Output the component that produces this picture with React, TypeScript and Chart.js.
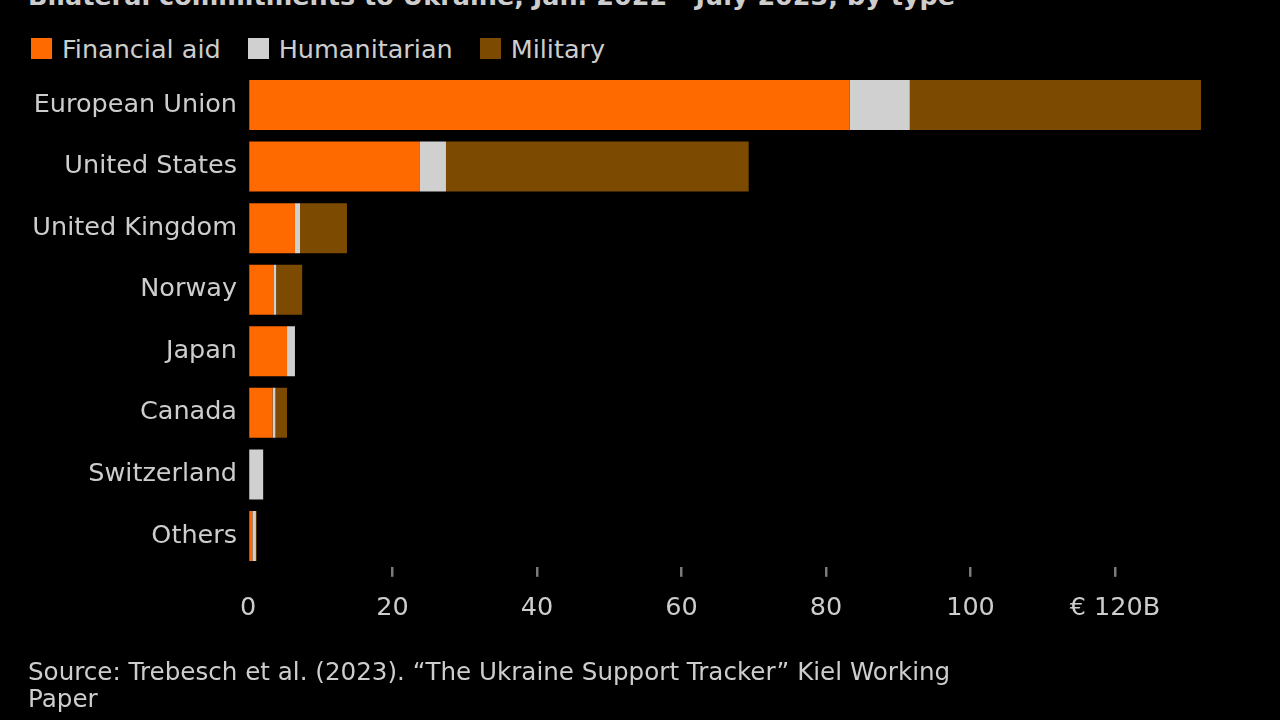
import React, { useEffect, useRef } from "react";
import { Chart, registerables } from "chart.js";

Chart.register(...registerables);

const CATEGORIES = [
  "European Union",
  "United States",
  "United Kingdom",
  "Norway",
  "Japan",
  "Canada",
  "Switzerland",
  "Others",
];
const FINANCIAL = [83.3, 23.8, 6.5, 3.6, 5.4, 3.4, 0, 0.6];
const HUMANITARIAN = [8.3, 3.6, 0.7, 0.3, 1.1, 0.4, 2.1, 0.5];
const MILITARY = [40.3, 41.9, 6.5, 3.6, 0, 1.6, 0, 0.1];
const X_TICKS = [0, 20, 40, 60, 80, 100, 120];

const TITLE = "Bilateral commitments to Ukraine, Jan. 2022 - July 2023, by type";
const SOURCE_1 = "Source: Trebesch et al. (2023). \u201cThe Ukraine Support Tracker\u201d Kiel Working";
const SOURCE_2 = "Paper";

const COLORS = {
  financial: "#ff6a00",
  humanitarian: "#d0d0d0",
  military: "#7c4a00",
  text: "#cdcdcd",
  tick: "#7a7a7a",
};

const FONT = "'DejaVu Sans', sans-serif";

export default function App() {
  const canvasRef = useRef<HTMLCanvasElement | null>(null);

  useEffect(() => {
    const canvas = canvasRef.current;
    if (!canvas) return;
    const xMax = 135;
    const left = 248;
    const pxPerUnit = 7.225;
    const right = left + xMax * pxPerUnit;
    const chart = new Chart(canvas, {
      type: "bar",
      data: {
        labels: CATEGORIES,
        datasets: [
          { label: "Financial aid", data: FINANCIAL, backgroundColor: COLORS.financial },
          { label: "Humanitarian", data: HUMANITARIAN, backgroundColor: COLORS.humanitarian },
          { label: "Military", data: MILITARY, backgroundColor: COLORS.military },
        ].map((d) => ({
          ...d,
          borderWidth: 0,
          barPercentage: 0.812,
          categoryPercentage: 1,
        })),
      },
      options: {
        indexAxis: "y",
        responsive: false,
        maintainAspectRatio: false,
        animation: false,
        layout: {
          padding: { top: 74.2, left: 0, right: 1280 - right, bottom: 93.2 },
        },
        plugins: {
          legend: { display: false },
          tooltip: { enabled: false },
          title: { display: false },
        },
        scales: {
          x: {
            stacked: true,
            min: 0,
            max: xMax,
            afterBuildTicks: (scale: any) => {
              scale.ticks = X_TICKS.map((v) => ({ value: v }));
            },
            afterFit: (scale: any) => {
              scale.height = 60;
            },
            border: { display: false },
            grid: {
              display: true,
              drawOnChartArea: false,
              drawTicks: true,
              tickLength: 10,
              lineWidth: 2.5,
              color: (ctx: any) =>
                ctx.tick && ctx.tick.value === 0 ? "rgba(0,0,0,0)" : COLORS.tick,
            },
            ticks: {
              color: COLORS.text,
              font: { family: FONT, size: 25.5 },
              padding: 16,
              maxRotation: 0,
              autoSkip: false,
              callback: (v: any) => (Number(v) === 120 ? "\u20ac 120B" : String(v)),
            },
          },
          y: {
            stacked: true,
            afterFit: (scale: any) => {
              scale.width = left;
            },
            border: { display: false },
            grid: { display: false, drawTicks: false },
            ticks: {
              color: COLORS.text,
              font: { family: FONT, size: 25.5 },
              padding: 11,
              autoSkip: false,
            },
          },
        },
      },
    } as any);
    return () => chart.destroy();
  }, []);

  const legendItems = [
    { label: "Financial aid", color: COLORS.financial },
    { label: "Humanitarian", color: COLORS.humanitarian },
    { label: "Military", color: COLORS.military },
  ];

  return (
    <div
      style={{
        position: "fixed",
        left: 0,
        top: 0,
        width: 1280,
        height: 720,
        background: "#000",
        overflow: "hidden",
        fontFamily: FONT,
        color: COLORS.text,
      }}
    >
      <div
        style={{
          position: "absolute",
          left: 28,
          top: -19,
          fontSize: 25.5,
          lineHeight: "30px",
          fontWeight: "bold",
          whiteSpace: "nowrap",
        }}
      >
        {TITLE}
      </div>
      <div
        style={{
          position: "absolute",
          left: 31,
          top: 33.6,
          display: "flex",
          alignItems: "center",
          fontSize: 25.5,
          lineHeight: "30px",
          whiteSpace: "nowrap",
        }}
      >
        {legendItems.map((it) => (
          <div key={it.label} style={{ display: "flex", alignItems: "center", marginRight: 27 }}>
            <span
              style={{
                display: "inline-block",
                width: 21,
                height: 21,
                background: it.color,
                marginRight: 10,
              }}
            />
            <span>{it.label}</span>
          </div>
        ))}
      </div>
      <canvas
        ref={canvasRef}
        width={1280}
        height={720}
        style={{ position: "absolute", left: 0, top: 0, width: 1280, height: 720 }}
      />
      <div
        style={{
          position: "absolute",
          left: 28,
          top: 658,
          fontSize: 24.6,
          lineHeight: "27px",
          whiteSpace: "nowrap",
        }}
      >
        {SOURCE_1}
        <br />
        {SOURCE_2}
      </div>
    </div>
  );
}
